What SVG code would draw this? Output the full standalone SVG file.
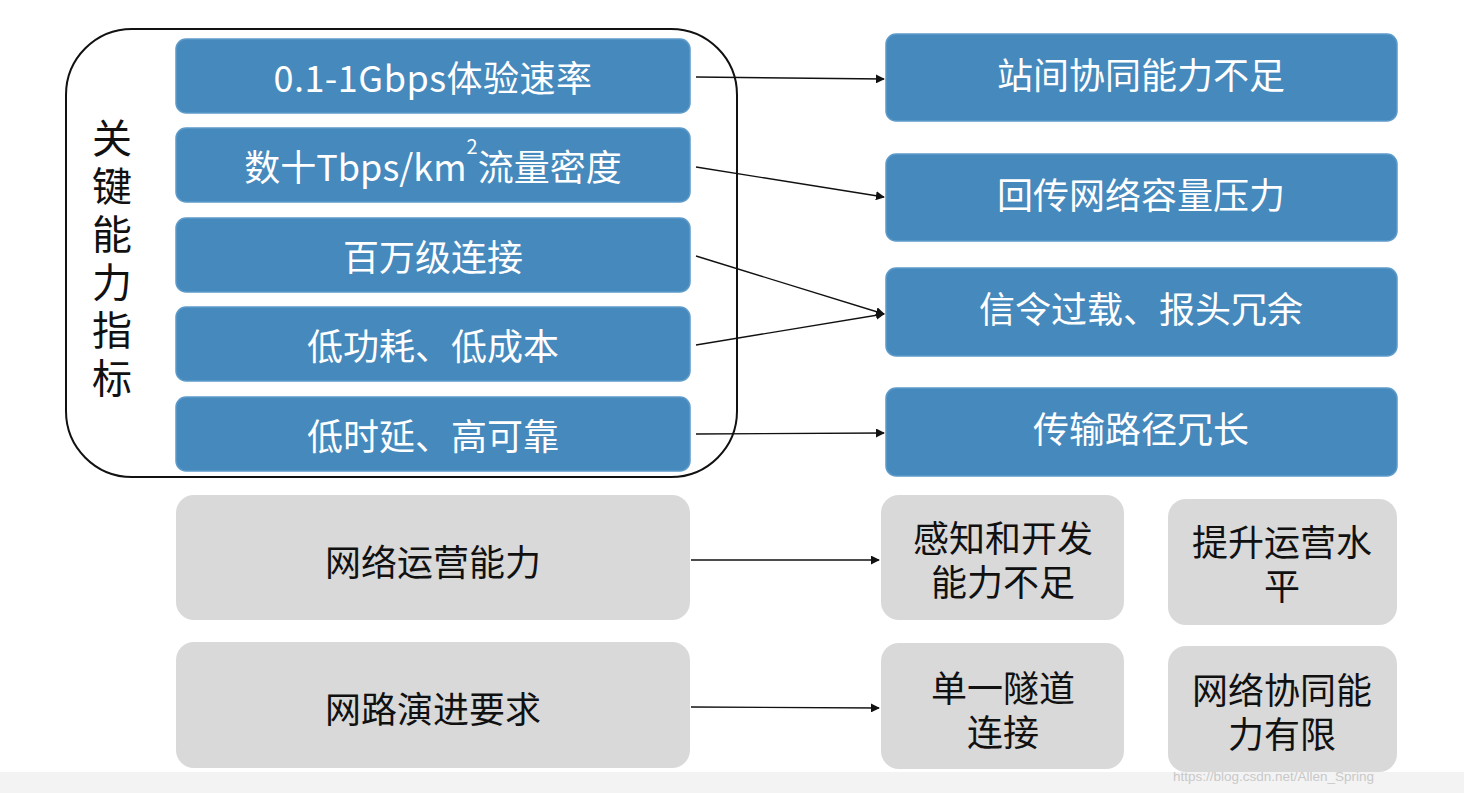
<svg xmlns="http://www.w3.org/2000/svg" width="1464" height="793" viewBox="0 0 1464 793">
<style>
.blue{fill:#4689BD;stroke:#5C9ACA;stroke-width:1.5}
.gray{fill:#D9D9D9;stroke:none}
.wt{fill:#FFFFFF;font-family:"Noto Sans CJK SC","Noto Sans",sans-serif;font-size:36px;text-anchor:middle;dominant-baseline:central}
.bt{fill:#111111;font-family:"Noto Sans CJK SC","Noto Sans",sans-serif;font-size:36px;text-anchor:middle;dominant-baseline:central}
.bt2{fill:#111111;font-family:"Liberation Sans","Noto Sans CJK SC",sans-serif;font-size:36px;text-anchor:middle;dominant-baseline:central}
.conn{stroke:#111;stroke-width:1.4;fill:none;marker-end:url(#ah)}
</style>
<defs>
<marker id="ah" viewBox="0 0 10 10" refX="9" refY="5" markerWidth="9" markerHeight="9" markerUnits="userSpaceOnUse" orient="auto">
<path d="M0,0 L10,5 L0,10 z" fill="#111"/>
</marker>
</defs>
<rect x="0" y="0" width="1464" height="793" fill="#FFFFFF"/>
<rect x="0" y="772" width="1464" height="21" fill="#F3F3F3"/>

<g id="group-key">
<rect x="66" y="29" width="671" height="448" rx="66" ry="66" fill="none" stroke="#111" stroke-width="2"/>
<text x="112" y="262" font-family="Noto Sans CJK SC,sans-serif" font-size="40" fill="#111" text-anchor="middle" writing-mode="vertical-rl" letter-spacing="8">关键能力指标</text>
</g>

<g id="k1"><rect class="blue" x="176" y="39" width="514" height="74" rx="10"/><text class="wt" x="433" y="76" letter-spacing="0.5">0.1-1Gbps体验速率</text></g>
<g id="k2"><rect class="blue" x="176" y="128" width="514" height="74" rx="10"/><text class="wt" x="433" y="165">数十Tbps/km<tspan dy="-20" font-size="20">2</tspan><tspan dy="20">流量密度</tspan></text></g>
<g id="k3"><rect class="blue" x="176" y="218" width="514" height="74" rx="10"/><text class="wt" x="433" y="255">百万级连接</text></g>
<g id="k4"><rect class="blue" x="176" y="307" width="514" height="74" rx="10"/><text class="wt" x="433" y="344">低功耗、低成本</text></g>
<g id="k5"><rect class="blue" x="176" y="397" width="514" height="74" rx="10"/><text class="wt" x="433" y="434">低时延、高可靠</text></g>

<g id="r1"><rect class="blue" x="886" y="34" width="511" height="87" rx="10"/><text class="wt" x="1141" y="73">站间协同能力不足</text></g>
<g id="r2"><rect class="blue" x="886" y="154" width="511" height="87" rx="10"/><text class="wt" x="1141" y="193">回传网络容量压力</text></g>
<g id="r3"><rect class="blue" x="886" y="268" width="511" height="88" rx="10"/><text class="wt" x="1141" y="307">信令过载、报头冗余</text></g>
<g id="r4"><rect class="blue" x="886" y="388" width="511" height="88" rx="10"/><text class="wt" x="1141" y="427">传输路径冗长</text></g>

<g id="g1"><rect class="gray" x="176" y="495" width="514" height="125" rx="18"/><text class="bt" x="433" y="560">网络运营能力</text></g>
<g id="g2"><rect class="gray" x="176" y="642" width="514" height="126" rx="18"/><text class="bt" x="433" y="707">网路演进要求</text></g>
<g id="g3"><rect class="gray" x="881" y="495" width="243" height="125" rx="18"/><text class="bt2"><tspan x="1003" y="539">感知和开发</tspan><tspan x="1003" y="583">能力不足</tspan></text></g>
<g id="g4"><rect class="gray" x="1168" y="499" width="229" height="126" rx="18"/><text class="bt2"><tspan x="1282" y="543">提升运营水</tspan><tspan x="1282" y="587">平</tspan></text></g>
<g id="g5"><rect class="gray" x="881" y="643" width="243" height="126" rx="18"/><text class="bt2"><tspan x="1003" y="689">单一隧道</tspan><tspan x="1003" y="733">连接</tspan></text></g>
<g id="g6"><rect class="gray" x="1168" y="646" width="229" height="126" rx="18"/><text class="bt2"><tspan x="1282" y="691">网络协同能</tspan><tspan x="1282" y="735">力有限</tspan></text></g>

<g id="connectors">
<line class="conn" x1="696" y1="77" x2="884" y2="79"/>
<line class="conn" x1="696" y1="167" x2="884" y2="197"/>
<line class="conn" x1="696" y1="256" x2="884" y2="314"/>
<line class="conn" x1="696" y1="345" x2="884" y2="314"/>
<line class="conn" x1="696" y1="434" x2="884" y2="433"/>
<line class="conn" x1="691" y1="560" x2="879" y2="560"/>
<line class="conn" x1="691" y1="707" x2="879" y2="708"/>
</g>

<text x="1173" y="776" font-family="Liberation Sans,sans-serif" font-size="13.5" fill="#C8C8C8" dominant-baseline="central">https://blog.csdn.net/Allen_Spring</text>
</svg>
